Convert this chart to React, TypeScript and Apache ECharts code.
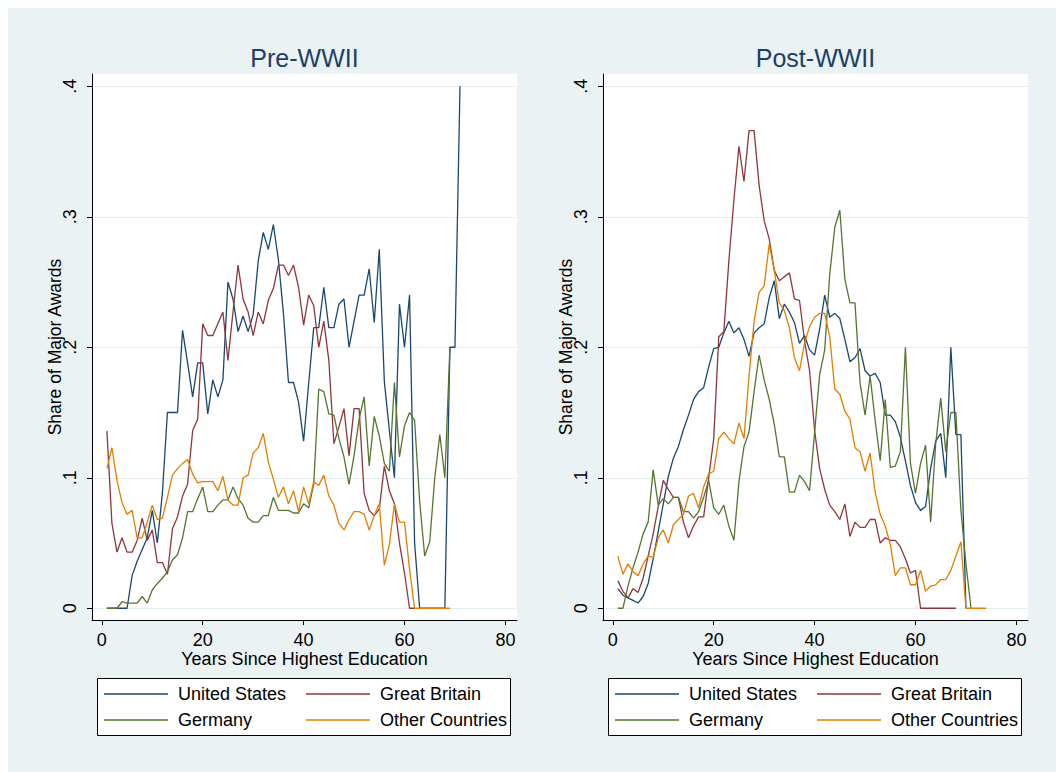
import React, { useEffect, useRef } from 'react';
import * as echarts from 'echarts';

// ---------- data ----------
const seriesNames = ['United States', 'Great Britain', 'Germany', 'Other Countries'];
const seriesColors = ['#1a476f', '#90353b', '#55752f', '#e37e00'];
const panelTitles = ['Pre-WWII', 'Post-WWII'];
const xTicks = [0, 20, 40, 60, 80];
const yTicks = [0, 0.1, 0.2, 0.3, 0.4];
const yTickLabels = ['0', '.1', '.2', '.3', '.4'];
const xTitle = 'Years Since Highest Education';
const yTitle = 'Share of Major Awards';

// Pre-WWII, values for years 1, 2, 3, ...
const usPre = [
  0, 0, 0, 0, 0, 0.025, 0.036, 0.045, 0.054, 0.075,
  0.05, 0.088, 0.15, 0.15, 0.15, 0.213, 0.188, 0.162, 0.188, 0.188,
  0.149, 0.175, 0.162, 0.175, 0.25, 0.237, 0.212, 0.224, 0.212, 0.225,
  0.266, 0.288, 0.275, 0.294, 0.267, 0.226, 0.173, 0.173, 0.158, 0.128,
  0.172, 0.215, 0.215, 0.246, 0.215, 0.215, 0.233, 0.237, 0.2, 0.22,
  0.24, 0.24, 0.26, 0.219, 0.275, 0.174, 0.136, 0.1, 0.233, 0.2,
  0.24, 0.05, 0, 0, 0, 0, 0, 0, 0.2, 0.2,
  0.4,
];
const gbPre = [
  0.136, 0.065, 0.043, 0.054, 0.043, 0.043, 0.052, 0.069, 0.052, 0.06,
  0.035, 0.035, 0.026, 0.061, 0.07, 0.086, 0.095, 0.136, 0.145, 0.218,
  0.209, 0.209, 0.218, 0.227, 0.19, 0.227, 0.263, 0.237, 0.227, 0.209,
  0.227, 0.218, 0.236, 0.245, 0.263, 0.263, 0.255, 0.263, 0.246, 0.217,
  0.24, 0.232, 0.2, 0.22, 0.19, 0.126, 0.139, 0.153, 0.117, 0.153,
  0.153, 0.088, 0.075, 0.071, 0.076, 0.109, 0.09, 0.08, 0.05, 0.027,
  0, 0,
];
const dePre = [
  0, 0, 0, 0.005, 0.004, 0.004, 0.004, 0.009, 0.004, 0.014,
  0.019, 0.023, 0.028, 0.037, 0.041, 0.054, 0.074, 0.074, 0.084, 0.093,
  0.074, 0.074, 0.079, 0.083, 0.083, 0.093, 0.084, 0.079, 0.069, 0.066,
  0.066, 0.071, 0.071, 0.085, 0.075, 0.075, 0.075, 0.073, 0.073, 0.08,
  0.077, 0.095, 0.168, 0.166, 0.149, 0.148, 0.13, 0.116, 0.095, 0.117,
  0.145, 0.162, 0.109, 0.147, 0.132, 0.111, 0.105, 0.173, 0.116, 0.14,
  0.15, 0.144, 0.082, 0.04, 0.051, 0.1, 0.133, 0.1, 0.2,
];
const otPre = [
  0.107, 0.123, 0.098, 0.081, 0.072, 0.075, 0.054, 0.054, 0.066, 0.079,
  0.068, 0.069, 0.085, 0.102, 0.107, 0.111, 0.114, 0.103, 0.096, 0.097,
  0.097, 0.097, 0.09, 0.101, 0.083, 0.079, 0.079, 0.1, 0.102, 0.119,
  0.123, 0.134, 0.112, 0.099, 0.085, 0.093, 0.08, 0.09, 0.074, 0.093,
  0.08, 0.097, 0.094, 0.102, 0.086, 0.079, 0.065, 0.06, 0.068, 0.074,
  0.074, 0.072, 0.06, 0.071, 0.08, 0.033, 0.049, 0.08, 0.066, 0.066,
  0.03, 0, 0, 0, 0, 0, 0, 0, 0,
];

// Post-WWII, values for years 1, 2, 3, ...
const usPost = [
  0.015, 0.01, 0.008, 0.006, 0.004, 0.009, 0.019, 0.038, 0.059, 0.08,
  0.101, 0.115, 0.124, 0.137, 0.148, 0.16, 0.166, 0.169, 0.185, 0.199,
  0.2, 0.211, 0.22, 0.211, 0.215, 0.206, 0.193, 0.211, 0.215, 0.218,
  0.238, 0.251, 0.222, 0.233, 0.227, 0.219, 0.203, 0.209, 0.198, 0.194,
  0.214, 0.24, 0.223, 0.226, 0.222, 0.206, 0.189, 0.192, 0.199, 0.182,
  0.178, 0.18, 0.173, 0.148, 0.148, 0.143, 0.131, 0.113, 0.094, 0.081,
  0.075, 0.078, 0.107, 0.128, 0.134, 0.1, 0.2, 0.133, 0.133, 0,
];
const gbPost = [
  0.021, 0.013, 0.008, 0.015, 0.012, 0.023, 0.04, 0.057, 0.078, 0.098,
  0.091, 0.085, 0.085, 0.066, 0.054, 0.063, 0.07, 0.07, 0.1, 0.13,
  0.208, 0.212, 0.266, 0.313, 0.354, 0.327, 0.366, 0.366, 0.324, 0.297,
  0.283, 0.259, 0.251, 0.254, 0.257, 0.237, 0.236, 0.205, 0.182, 0.136,
  0.107, 0.091, 0.079, 0.074, 0.068, 0.08, 0.055, 0.066, 0.062, 0.062,
  0.068, 0.068, 0.05, 0.054, 0.052, 0.052, 0.047, 0.038, 0.027, 0.029,
  0, 0, 0, 0, 0, 0, 0, 0,
];
const dePost = [
  0, 0, 0.017, 0.031, 0.043, 0.057, 0.066, 0.106, 0.079, 0.084,
  0.08, 0.085, 0.085, 0.074, 0.074, 0.069, 0.074, 0.085, 0.098, 0.077,
  0.072, 0.079, 0.063, 0.052, 0.097, 0.124, 0.135, 0.166, 0.194, 0.175,
  0.16, 0.141, 0.116, 0.116, 0.089, 0.089, 0.102, 0.097, 0.09, 0.135,
  0.179, 0.198, 0.256, 0.292, 0.305, 0.252, 0.234, 0.234, 0.173, 0.148,
  0.178, 0.144, 0.113, 0.16, 0.108, 0.109, 0.12, 0.2, 0.111, 0.088,
  0.111, 0.125, 0.066, 0.126, 0.161, 0.12, 0.15, 0.15, 0.075, 0.034,
  0,
];
const otPost = [
  0.04, 0.026, 0.034, 0.028, 0.025, 0.034, 0.04, 0.039, 0.054, 0.06,
  0.05, 0.064, 0.068, 0.072, 0.086, 0.088, 0.077, 0.093, 0.103, 0.105,
  0.13, 0.135, 0.13, 0.126, 0.142, 0.13, 0.178, 0.22, 0.242, 0.247,
  0.279, 0.259, 0.234, 0.228, 0.215, 0.192, 0.182, 0.203, 0.216, 0.223,
  0.226, 0.226, 0.208, 0.168, 0.164, 0.151, 0.145, 0.123, 0.12, 0.105,
  0.119, 0.089, 0.072, 0.063, 0.049, 0.025, 0.031, 0.031, 0.018, 0.018,
  0.029, 0.013, 0.017, 0.018, 0.022, 0.022, 0.029, 0.04, 0.051, 0,
  0, 0, 0, 0,
];

const panelData = [
  [usPre, gbPre, dePre, otPre],
  [usPost, gbPost, dePost, otPost],
];

// ---------- styling / layout ----------
const FONT = '"Liberation Sans", Arial, Helvetica, sans-serif';
const BG = '#eaf2f3';
const TITLE_COLOR = '#1e3e66';
const PANEL_LEFT = [84, 595];
const GRID_TOP = 66;
const GRID_W = 425;
const GRID_H = 546;

export default function App() {
  const ref = useRef<HTMLDivElement>(null);

  useEffect(() => {
    if (!ref.current) return;
    const chart = echarts.init(ref.current, undefined, { renderer: 'svg' });

    const grids: any[] = [];
    const xAxes: any[] = [];
    const yAxes: any[] = [];
    const series: any[] = [];
    const titles: any[] = [];
    const legends: any[] = [];
    const graphics: any[] = [];

    panelData.forEach((panel, p) => {
      const left = PANEL_LEFT[p];
      grids.push({
        left,
        top: GRID_TOP,
        width: GRID_W,
        height: GRID_H,
        show: true,
        backgroundColor: '#ffffff',
        borderWidth: 0,
        containLabel: false,
      });
      xAxes.push({
        type: 'value',
        gridIndex: p,
        min: -1.95,
        max: 82.3,
        name: xTitle,
        nameLocation: 'middle',
        nameGap: 30,
        nameMoveOverlap: false,
        nameTextStyle: { fontSize: 18, color: '#000', fontFamily: FONT },
        axisLine: { show: true, onZero: false, lineStyle: { color: '#000', width: 1 } },
        axisTick: { show: true, length: 5, customValues: xTicks, lineStyle: { color: '#000', width: 1 } },
        axisLabel: { show: true, customValues: xTicks, margin: 11, fontSize: 18, color: '#000', fontFamily: FONT },
        splitLine: { show: false },
      });
      yAxes.push({
        type: 'value',
        gridIndex: p,
        min: -0.009,
        max: 0.4094,
        name: yTitle,
        nameLocation: 'middle',
        nameRotate: 90,
        nameGap: 28,
        nameMoveOverlap: false,
        nameTextStyle: { fontSize: 17.5, color: '#000', fontFamily: FONT },
        axisLine: { show: true, onZero: false, lineStyle: { color: '#000', width: 1 } },
        axisTick: { show: true, length: 5, customValues: yTicks, lineStyle: { color: '#000', width: 1 } },
        axisLabel: {
          show: true,
          customValues: yTicks,
          rotate: 90,
          margin: 13,
          fontSize: 18,
          color: '#000',
          fontFamily: FONT,
          formatter: (v: number) => {
            const i = yTicks.findIndex((t) => Math.abs(t - v) < 1e-6);
            return i >= 0 ? yTickLabels[i] : '';
          },
        },
        splitLine: { show: true, lineStyle: { color: '#e3edf0', width: 1 } },
      });
      panel.forEach((vals, s) => {
        series.push({
          type: 'line',
          name: seriesNames[s],
          xAxisIndex: p,
          yAxisIndex: p,
          data: vals.map((v, i) => [i + 1, v]),
          showSymbol: false,
          symbol: 'none',
          color: seriesColors[s],
          itemStyle: { color: seriesColors[s] },
          lineStyle: { color: seriesColors[s], width: 1.3 },
          emphasis: { disabled: true },
          silent: true,
        });
      });
      titles.push({
        text: panelTitles[p],
        left: left + GRID_W / 2,
        top: 37,
        textAlign: 'center',
        padding: 0,
        textStyle: { fontSize: 25, fontWeight: 'normal', color: TITLE_COLOR, fontFamily: FONT },
      });
      const lx = left + 5;
      const positions = [
        [lx + 7, 677],
        [lx + 209, 677],
        [lx + 7, 703],
        [lx + 209, 703],
      ];
      seriesNames.forEach((name, s) => {
        legends.push({
          data: [name],
          left: positions[s][0],
          top: positions[s][1],
          padding: 0,
          itemGap: 0,
          itemWidth: 64,
          itemHeight: 1.4,
          icon: 'rect',
          selectedMode: false,
          textStyle: { fontSize: 18, color: '#000', fontFamily: FONT, padding: [0, 0, 0, 5] },
        });
      });
      graphics.push({
        type: 'rect',
        shape: { x: lx + 0.5, y: 670.5, width: 413, height: 57 },
        style: { fill: '#ffffff', stroke: '#000', lineWidth: 1 },
        z: 0,
      });
    });

    chart.setOption({
      animation: false,
      backgroundColor: BG,
      textStyle: { fontFamily: FONT },
      title: titles,
      grid: grids,
      xAxis: xAxes,
      yAxis: yAxes,
      legend: legends,
      graphic: graphics,
      series,
    });

    return () => chart.dispose();
  }, []);

  return (
    <div
      ref={ref}
      style={{ position: 'absolute', left: 8, top: 8, width: 1048, height: 764 }}
    />
  );
}
